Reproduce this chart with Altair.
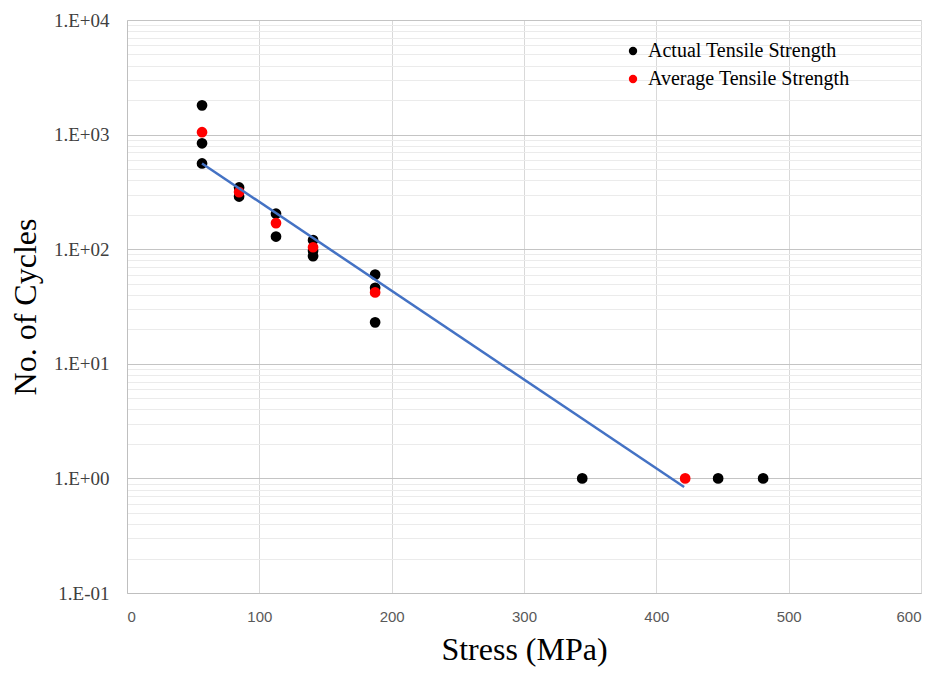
import altair as alt
import pandas as pd

# Data
actual_stress = [56.7, 56.7, 56.7, 84.7, 84.7, 112.6, 112.6, 140.6, 140.6, 140.6,
                 187.5, 187.5, 187.5, 344, 446.7, 480.7]
actual_cycles = [1800, 840, 560, 346, 288, 204, 129, 120, 97, 87, 60, 46, 23, 1, 1, 1]
avg_stress = [56.7, 84.7, 112.6, 140.6, 187.5, 421.8]
avg_cycles = [1050, 315, 169, 104, 42, 1]
trend_stress = [56.7, 421.0]
trend_cycles = [560, 0.84]

series_names = ["Actual Tensile Strength", "Average Tensile Strength"]
series_colors = ["#000000", "#ff0000"]

x_ticks = [0, 100, 200, 300, 400, 500, 600]
y_grid = []
for k in range(-1, 4):
    for m in range(1, 10):
        y_grid.append(m * 10 ** k)
y_grid.append(10000)

pts = pd.DataFrame({
    "stress": actual_stress + avg_stress,
    "cycles": actual_cycles + avg_cycles,
    "series": [series_names[0]] * len(actual_stress) + [series_names[1]] * len(avg_stress),
    "order": [0] * len(actual_stress) + [1] * len(avg_stress),
})
trend = pd.DataFrame({"stress": trend_stress, "cycles": trend_cycles})

serif = "Liberation Serif"
is_major = "abs(log(datum.value)/LN10 - round(log(datum.value)/LN10)) < 0.001"
exp_expr = "round(log(datum.value)/LN10)"
label_expr = (f"({is_major}) ? ('1.E' + ({exp_expr} >= 0 ? '+' : '-') + "
              f"(abs({exp_expr}) < 10 ? '0' : '') + abs({exp_expr})) : ''")

x_enc = alt.X("stress:Q",
              scale=alt.Scale(domain=[0, 600], nice=False),
              axis=alt.Axis(values=x_ticks, title="Stress (MPa)", ticks=False,
                            labelFont="Liberation Sans",
                            labelFontSize=15, labelColor="#595959", labelPadding=16,
                            titleFont=serif, titleFontSize=32, titleFontWeight="normal",
                            titleColor="#000000", titlePadding=10,
                            gridColor="#d9d9d9", domainColor="#bfbfbf"))
y_enc = alt.Y("cycles:Q",
              scale=alt.Scale(type="log", domain=[0.1, 10000], nice=False),
              axis=alt.Axis(values=y_grid, title="No. of Cycles", ticks=False,
                            labelExpr=label_expr, labelFont=serif, labelFontSize=19,
                            labelColor="#404040", labelPadding=18,
                            labelBound=False, labelOverlap=False,
                            titleFont=serif, titleFontSize=32, titleFontWeight="normal",
                            titleColor="#000000", titlePadding=11,
                            gridColor={"condition": {"test": is_major, "value": "#c4c4c4"},
                                       "value": "#ebebeb"},
                            domainColor="#bfbfbf"))

points = alt.Chart(pts).mark_circle(size=115, opacity=1).encode(
    x=x_enc,
    y=y_enc,
    color=alt.Color("series:N",
                    scale=alt.Scale(domain=series_names, range=series_colors),
                    legend=alt.Legend(title=None, orient="none", legendX=496, legendY=21,
                                      labelFont=serif, labelFontSize=20, labelColor="#000000",
                                      labelLimit=400,
                                      symbolType="circle", symbolSize=70, rowPadding=8,
                                      labelOffset=5, symbolOpacity=1)),
    order="order:Q",
)

line = alt.Chart(trend).mark_line(color="#4472c4", strokeWidth=2.5).encode(
    x="stress:Q", y="cycles:Q"
)

chart = alt.layer(points, line).properties(
    width=794, height=573,
    autosize=alt.AutoSizeParams(type="none"),
    padding={"left": 119, "top": 12, "right": 15, "bottom": 76},
).configure_view(stroke=None).configure_axis(labelAngle=0)

chart.save("out.html", embed_options={"renderer": "svg", "actions": False})
